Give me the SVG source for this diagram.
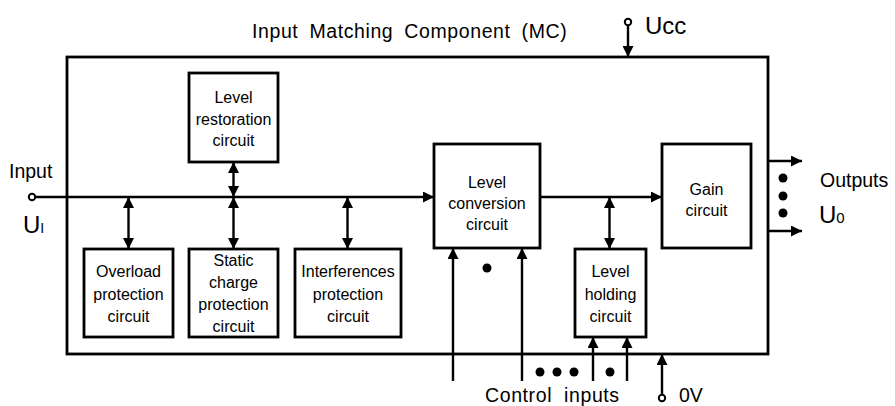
<svg xmlns="http://www.w3.org/2000/svg" width="895" height="406" viewBox="0 0 895 406">
<style>
.box{fill:#fff;stroke:#000;stroke-width:2.8}
.ln{fill:none;stroke:#000;stroke-width:2.4}
.t{font-family:"Liberation Sans",Arial,sans-serif;font-size:16px;fill:#000;text-anchor:middle}
.lbl{font-family:"Liberation Sans",Arial,sans-serif;font-size:19.5px;fill:#000}
.big{font-family:"Liberation Sans",Arial,sans-serif;font-size:24px;fill:#000}
.dot{fill:#000}
.term{fill:#fff;stroke:#000;stroke-width:2}
</style>
<defs>
<marker id="ah" viewBox="0 0 10 10" refX="10" refY="5" markerWidth="11" markerHeight="11" markerUnits="userSpaceOnUse" orient="auto-start-reverse">
<path d="M0,0 L10,5 L0,10 z" fill="#000"/>
</marker>
</defs>
<rect width="895" height="406" fill="#fff"/>

<g id="outer">
<rect class="box" x="67" y="57" width="701" height="297" style="fill:none"/>
<text class="lbl" x="252" y="38" letter-spacing="0.6" word-spacing="5">Input Matching Component (MC)</text>
</g>

<g id="level-restoration">
<rect class="box" x="189" y="73" width="89" height="89"/>
<text class="t" x="233.5" y="103">Level</text>
<text class="t" x="233.5" y="125">restoration</text>
<text class="t" x="233.5" y="146">circuit</text>
</g>

<g id="overload">
<rect class="box" x="84" y="249" width="89" height="88"/>
<text class="t" x="128.5" y="277">Overload</text>
<text class="t" x="128.5" y="300">protection</text>
<text class="t" x="128.5" y="322">circuit</text>
</g>

<g id="static-charge">
<rect class="box" x="189" y="249" width="89" height="88"/>
<text class="t" x="233.5" y="266">Static</text>
<text class="t" x="233.5" y="288">charge</text>
<text class="t" x="233.5" y="310">protection</text>
<text class="t" x="233.5" y="332">circuit</text>
</g>

<g id="interferences">
<rect class="box" x="295" y="249" width="106" height="88"/>
<text class="t" x="348" y="277">Interferences</text>
<text class="t" x="348" y="300">protection</text>
<text class="t" x="348" y="322">circuit</text>
</g>

<g id="level-conversion">
<rect class="box" x="434" y="144" width="106" height="104"/>
<text class="t" x="487" y="188">Level</text>
<text class="t" x="487" y="209">conversion</text>
<text class="t" x="487" y="230">circuit</text>
</g>

<g id="gain">
<rect class="box" x="662" y="144" width="89" height="104"/>
<text class="t" x="706.5" y="195">Gain</text>
<text class="t" x="706.5" y="216">circuit</text>
</g>

<g id="level-holding">
<rect class="box" x="575" y="249" width="71" height="88"/>
<text class="t" x="610.5" y="277">Level</text>
<text class="t" x="610.5" y="300">holding</text>
<text class="t" x="610.5" y="322">circuit</text>
</g>

<g id="connectors">
<line class="ln" x1="35" y1="197" x2="434" y2="197" marker-end="url(#ah)"/>
<line class="ln" x1="540" y1="197" x2="662" y2="197" marker-end="url(#ah)"/>
<line class="ln" x1="233.5" y1="162" x2="233.5" y2="197" marker-start="url(#ah)" marker-end="url(#ah)"/>
<line class="ln" x1="128.5" y1="197" x2="128.5" y2="249" marker-start="url(#ah)" marker-end="url(#ah)"/>
<line class="ln" x1="233.5" y1="197" x2="233.5" y2="249" marker-start="url(#ah)" marker-end="url(#ah)"/>
<line class="ln" x1="347.5" y1="197" x2="347.5" y2="249" marker-start="url(#ah)" marker-end="url(#ah)"/>
<line class="ln" x1="609.5" y1="197" x2="609.5" y2="249" marker-start="url(#ah)" marker-end="url(#ah)"/>
<line class="ln" x1="453" y1="381" x2="453" y2="248" marker-end="url(#ah)"/>
<line class="ln" x1="522" y1="381" x2="522" y2="248" marker-end="url(#ah)"/>
<line class="ln" x1="593" y1="381" x2="593" y2="337" marker-end="url(#ah)"/>
<line class="ln" x1="627" y1="381" x2="627" y2="337" marker-end="url(#ah)"/>
<line class="ln" x1="628" y1="25" x2="628" y2="57" marker-end="url(#ah)"/>
<line class="ln" x1="662" y1="395" x2="662" y2="354" marker-end="url(#ah)"/>
<line class="ln" x1="768" y1="161" x2="802" y2="161" marker-end="url(#ah)"/>
<line class="ln" x1="768" y1="231" x2="802" y2="231" marker-end="url(#ah)"/>
</g>

<g id="terminals">
<circle class="term" cx="32" cy="197" r="3.2"/>
<circle class="term" cx="628" cy="22" r="3.2"/>
<circle class="term" cx="662" cy="398" r="3.2"/>
</g>

<g id="dots">
<circle class="dot" cx="487" cy="268" r="4.5"/>
<circle class="dot" cx="540" cy="372" r="4.5"/>
<circle class="dot" cx="557" cy="372" r="4.5"/>
<circle class="dot" cx="574" cy="372" r="4.5"/>
<circle class="dot" cx="610" cy="372" r="4.5"/>
<circle class="dot" cx="783" cy="178" r="4.5"/>
<circle class="dot" cx="783" cy="196" r="4.5"/>
<circle class="dot" cx="783" cy="213" r="4.5"/>
</g>

<g id="labels">
<text class="lbl" x="9" y="178">Input</text>
<text class="big" x="23" y="233">U<tspan font-size="14">I</tspan></text>
<text class="big" x="645" y="34">Ucc</text>
<text class="lbl" x="820" y="187">Outputs</text>
<text class="big" x="819" y="223">U<tspan font-size="15">0</tspan></text>
<text class="lbl" x="485" y="402" letter-spacing="0.6" word-spacing="6">Control inputs</text>
<text class="lbl" x="679" y="402">0V</text>
</g>
</svg>
